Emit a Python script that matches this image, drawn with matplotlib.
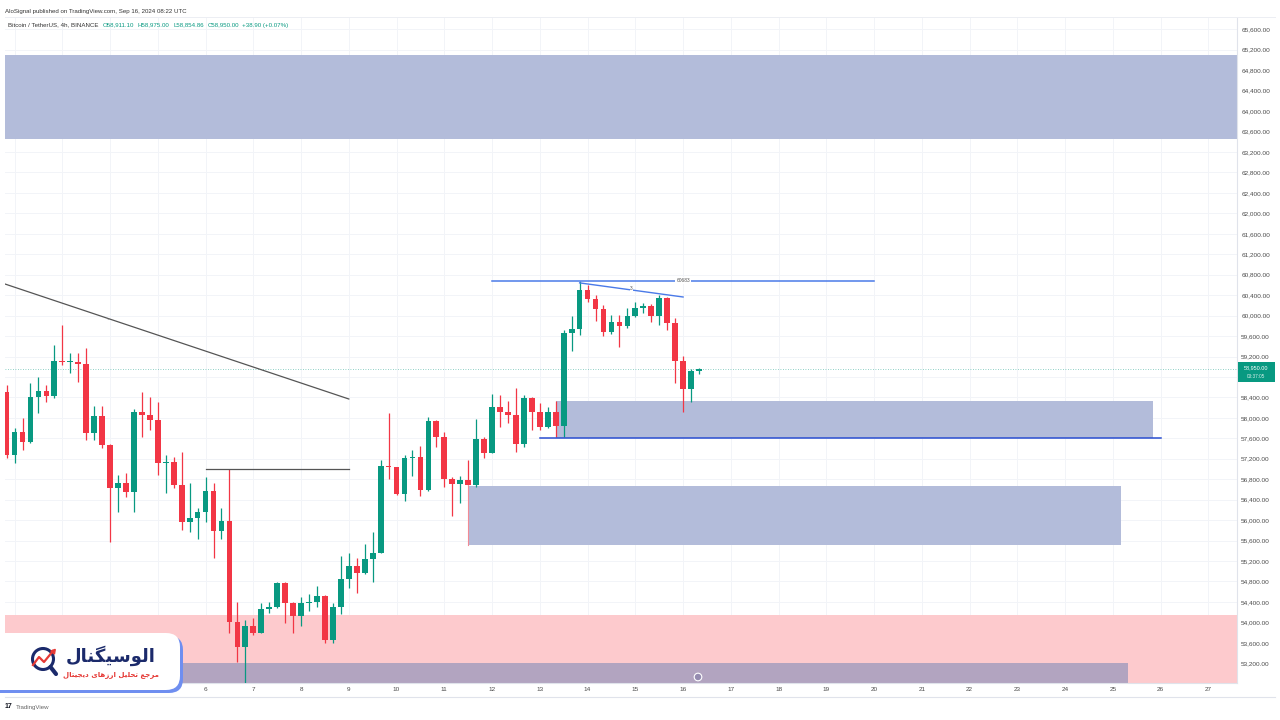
import numpy as np
import pandas as pd
import matplotlib
matplotlib.use("Agg")
import matplotlib.pyplot as plt
from matplotlib.patches import Rectangle, FancyBboxPatch, Circle

plt.rcParams['font.family'] = ['Liberation Sans', 'DejaVu Sans']

# ---------------- data: BTC/USDT 4h candles, first bar Sep 1 20:00 ----------------
start_time = "2024-09-01 20:00"

opens = [58511, 57273, 57729, 57533, 58413, 58525, 58433, 59118, 59090, 59098,
         59059, 57709, 58030, 57469, 56634, 56726, 56549, 58120, 58050, 57958,
         57111, 57136, 56686, 55969, 56035, 56152, 56575, 55787, 55982, 54013,
         53512, 53934, 53797, 54255, 54306, 54764, 54384, 54130, 54384, 54404,
         54521, 53655, 54306, 54848, 55102, 54959, 55233, 55362, 57064, 57033,
         56504, 57209, 57230, 56589, 57944, 57619, 56804, 56700, 56784, 56686,
         57580, 57318, 58218, 58120, 58056, 57488, 58382, 58120, 57827, 58108,
         57846, 59653, 59732, 60501, 60319, 60123, 59685, 59869, 59796, 59992,
         60154, 60188, 59992, 60338, 59861, 59118, 58564, 58911]
highs = [58642, 57795, 57991, 58676, 58793, 58642, 59425, 59816, 59262, 59262,
         59360, 58232, 58232, 57480, 56882, 56915, 58167, 58511, 58402, 58316,
         57273, 57240, 57338, 56720, 56231, 56849, 56731, 56231, 57000, 54404,
         54046, 54079, 54372, 54404, 54795, 54795, 54404, 54502, 54554, 54711,
         54535, 54372, 55298, 55362, 55259, 55532, 55773, 57175, 58089, 57044,
         57273, 57371, 57449, 58022, 57958, 57729, 56849, 56862, 57175, 57971,
         57631, 58466, 58447, 58335, 58578, 58447, 58413, 58284, 58218, 58329,
         59718, 59998, 60683, 60598, 60403, 60207, 60012, 60012, 60154, 60272,
         60240, 60221, 60403, 60370, 59947, 59210, 58949, 58975]
lows = [57209, 57111, 57371, 57502, 58089, 58316, 58382, 59034, 58871, 58707,
        57567, 57567, 57404, 55577, 56164, 56458, 56164, 57631, 57762, 56882,
        56524, 56622, 55806, 55773, 55624, 55969, 55253, 55624, 53786, 53230,
        52700, 53752, 53786, 54177, 54275, 53981, 53786, 53928, 54228, 54306,
        53590, 53590, 54163, 54678, 54568, 54946, 54789, 55350, 56798, 56491,
        56379, 56862, 56471, 56575, 57436, 56653, 56080, 56328, 56686, 56641,
        57209, 57306, 57827, 57893, 57338, 57430, 57762, 57762, 57795, 57631,
        57631, 59307, 59620, 60272, 59894, 59601, 59634, 59392, 59763, 59978,
        60045, 59881, 59816, 59718, 58676, 58120, 58316, 58854]
closes = [57273, 57729, 57533, 58413, 58525, 58433, 59118, 59098, 59105, 59059,
          57709, 58030, 57469, 56634, 56726, 56549, 58120, 58050, 57958, 57111,
          57136, 56686, 55969, 56035, 56152, 56575, 55787, 55982, 54013, 53512,
          53934, 53797, 54255, 54306, 54764, 54384, 54130, 54384, 54404, 54521,
          53655, 54306, 54848, 55102, 54959, 55233, 55362, 57064, 57033, 56504,
          57209, 57230, 56589, 57944, 57619, 56804, 56700, 56784, 56686, 57580,
          57318, 58218, 58120, 58056, 57488, 58382, 58120, 57827, 58108, 57846,
          59653, 59732, 60501, 60319, 60123, 59685, 59869, 59796, 59992, 60154,
          60188, 59992, 60338, 59861, 59118, 58564, 58911, 58950]
last_price = 58950

# drawings (bar index, price)
zone_top = (63454, 65097)
zone_mid = (69, 144, 57606, 58330)
zone_low = (58, 140, 55513, 56667)
zone_pink = 54144
zone_purple = (140.9, 53205)
black_trend = ((-0.2, 60618), (43, 58369))
black_level = (25, 43, 57000)
blue_level = (61, 109, 60683)
blue_trend = ((72, 60640), (85, 60364))
support_line = (67, 145, 57606)

ytick_vals = np.arange(53200, 65601, 400)
hidden_tick = 58800   # covered by the last-price tag

GREEN = '#089981'
RED = '#f23645'
ZONE = '#b3bcda'
GRID = '#f2f4f8'

n_slots = 156
times = pd.date_range(start_time, periods=n_slots, freq="4h")
idx = np.arange(len(opens))

fig = plt.figure(figsize=(12.8, 7.2), dpi=100)
ax = fig.add_axes([5/1280, 1-683/720, (1237-5)/1280, (683-18)/720])
ax.set_xlim(-0.2, 154.6)
ax.set_ylim(52814, 65821)

# grid
day_ticks = [i for i, t in enumerate(times) if t.hour == 0]
day_labels = [str(times[i].day) for i in day_ticks]
ax.set_xticks(day_ticks)
ax.set_xticklabels(day_labels)
ax.set_yticks(ytick_vals)
ax.set_yticklabels(["" if v == hidden_tick else f"{v:,.2f}" for v in ytick_vals])
ax.grid(True, color=GRID, lw=0.7, zorder=0)
ax.set_axisbelow(True)

# zones
ax.add_patch(Rectangle((-5, zone_top[0]), 170, zone_top[1]-zone_top[0], fc=ZONE, ec='none', zorder=1))
ax.add_patch(Rectangle((-5, 52000), 170, zone_pink-52000, fc='#fdcacd', ec='none', zorder=1))
ax.add_patch(Rectangle((-5, 52000), zone_purple[0]+5, zone_purple[1]-52000, fc='#b2a4c0', ec='none', zorder=1.5))
ax.add_patch(Rectangle((zone_mid[0], zone_mid[2]), zone_mid[1]-zone_mid[0], zone_mid[3]-zone_mid[2],
                       fc=ZONE, ec='none', zorder=1))
ax.add_patch(Rectangle((zone_low[0], zone_low[2]), zone_low[1]-zone_low[0], zone_low[3]-zone_low[2],
                       fc=ZONE, ec='none', zorder=1))
ax.plot([zone_low[0], zone_low[0]], [zone_low[2], zone_low[3]], color='#f28b95', lw=0.8, zorder=1.2)

# candles
up = np.array(closes) >= np.array(opens)
cols = np.where(up, GREEN, RED)
ax.vlines(idx, lows, highs, colors=cols, lw=0.9, zorder=3)
body_lo = np.minimum(opens, closes)
body_h = np.maximum(np.abs(np.array(closes) - np.array(opens)), 18)
ax.bar(idx, body_h, bottom=body_lo, width=0.72, color=cols, zorder=4, linewidth=0)

# drawings
ax.plot([black_trend[0][0], black_trend[1][0]], [black_trend[0][1], black_trend[1][1]],
        color='#555555', lw=0.9, zorder=5)
ax.text(12.7, 60618 + (58369-60618)*(12.9/43.2), "\u2248", fontsize=3, color='#777777',
        ha='center', va='center', zorder=6)
ax.plot([black_level[0], black_level[1]], [black_level[2]]*2, color='#555555', lw=0.9, zorder=5)
ax.plot([blue_level[0], blue_level[1]], [blue_level[2]]*2, color='#4a7ae8', lw=1.1, zorder=5)
ax.text((blue_level[0]+blue_level[1])/2, blue_level[2], "60683", fontsize=3.5, color='#555555',
        ha='center', va='center', zorder=6,
        bbox=dict(boxstyle='square,pad=0.2', fc='white', ec='none'))
ax.plot([blue_trend[0][0], blue_trend[1][0]], [blue_trend[0][1], blue_trend[1][1]],
        color='#4a7ae8', lw=1.0, zorder=5)
ax.text(78.5, 60525, "3", fontsize=3.5, color='#555555', ha='center', va='center', zorder=6,
        bbox=dict(boxstyle='square,pad=0.1', fc='white', ec='none'))
ax.plot([support_line[0], support_line[1]], [support_line[2]]*2, color='#2a4ed0', lw=1.1, zorder=5)
ax.axhline(last_price, color=GREEN, lw=0.6, ls=(0, (1, 2)), alpha=0.6, zorder=2)

# axes style
ax.yaxis.tick_right()
ax.tick_params(axis='y', length=0, pad=3, labelsize=4.6, labelcolor='#4a4a4a')
ax.tick_params(axis='x', length=0, pad=3.2, labelsize=4.6, labelcolor='#4a4a4a')
for s in ['top', 'left']:
    ax.spines[s].set_visible(False)
for s in ['right', 'bottom']:
    ax.spines[s].set_color('#e0e3eb')
    ax.spines[s].set_linewidth(0.8)

# ---------------- overlay in pixel coordinates ----------------
ov = fig.add_axes([0, 0, 1, 1], zorder=10)
ov.set_xlim(0, 1280)
ov.set_ylim(720, 0)
ov.axis('off')

ov.plot([5, 1275], [17, 17], color='#eceef3', lw=0.7)
ov.plot([5, 1275], [697, 697], color='#e0e3eb', lw=0.8)

ov.text(5, 11.5, "AloSignal published on TradingView.com, Sep 16, 2024 08:22 UTC",
        fontsize=4.4, color='#333333', va='center')
ov.text(8, 25, "Bitcoin / TetherUS, 4h, BINANCE", fontsize=4.4, color='#333333', va='center')
for xx, s in [(103, "O58,911.10"), (138, "H58,975.00"), (173, "L58,854.86"),
              (208, "C58,950.00"), (242, "+38.90 (+0.07%)")]:
    ov.text(xx, 25, s, fontsize=4.4, color=GREEN, va='center')

# last price tag
ov.add_patch(Rectangle((1238, 362), 37, 20, fc=GREEN, ec='none'))
ov.text(1256.5, 367.5, "58,950.00", fontsize=4.0, color='white', ha='center', va='center')
ov.text(1256.5, 377, "03:37:05", fontsize=3.4, color='#d8f0ea', ha='center', va='center')

# event marker
ov.add_patch(Circle((698, 677), 3.8, fc='#958cb0', ec='white', lw=0.8))

# footer
ov.text(5, 707, "17", fontsize=5, fontweight='bold', color='#131722', va='center')
ov.text(16, 707, "TradingView", fontsize=4.4, color='#666666', va='center')

# logo card
ov.add_patch(FancyBboxPatch((-20, 636), 203, 57, boxstyle='round,pad=0,rounding_size=14',
                            fc='#6f8ef0', ec='none'))
ov.add_patch(FancyBboxPatch((-20, 633), 200, 57, boxstyle='round,pad=0,rounding_size=14',
                            fc='white', ec='none'))
ov.add_patch(Circle((43, 659), 10.5, fc='none', ec='#1b2a6b', lw=2.2))
ov.plot([50.5, 56], [667, 674], color='#1b2a6b', lw=3, solid_capstyle='round')
ov.plot([33, 39, 44, 53], [665, 657, 662, 651], color='#e53935', lw=1.6)
ov.plot([53], [651], marker=(3, 0, -40), ms=4, color='#e53935')

logo_main = "\uFEDD\uFE8E\uFEE8\uFB95\uFEF4\uFEB3\uFEEE\uFEDF\uFE8D"
logo_sub = ("\uFEDD\uFE8E\uFE98\uFEF4\uFEA0\uFEF3\uFEA9 \uFEEF\uFE8E\uFEEB\uFEAF\uFEAD\uFE8D "
            "\uFEDE\uFEF4\uFEE0\uFEA4\uFE97 \uFECA\uFE9F\uFEAE\uFEE3")
ov.text(111, 656, logo_main, fontsize=13, fontweight='bold', color='#1b2a6b',
        ha='center', va='center', family=['DejaVu Sans'])
ov.text(111, 675, logo_sub, fontsize=5, fontweight='bold', color='#e53935',
        ha='center', va='center', family=['DejaVu Sans'])

fig.savefig("out.png", dpi=100)
